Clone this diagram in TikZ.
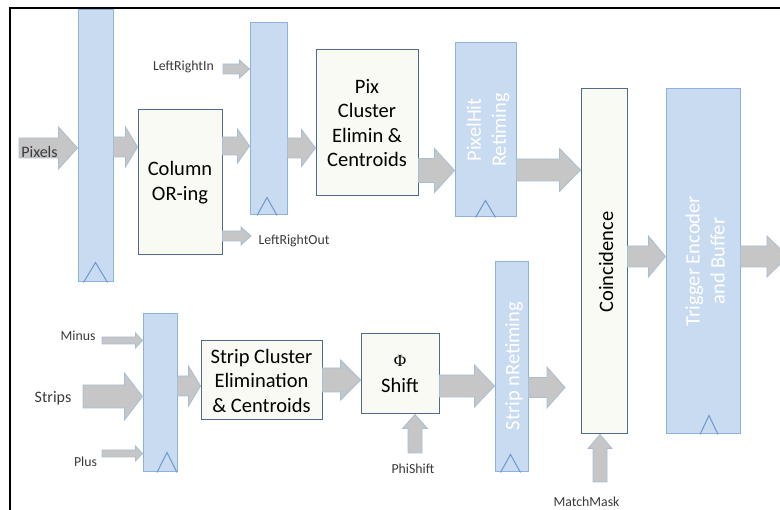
\documentclass[tikz,border=0pt]{standalone}
\usepackage{fontspec}
\setmainfont{Carlito}
\newfontfamily\greekserif{Liberation Serif}
\usetikzlibrary{calc}
\definecolor{regfill}{HTML}{C9DBF1}
\definecolor{regline}{HTML}{8FB2DC}
\definecolor{clkline}{HTML}{6F97CC}
\definecolor{boxfill}{HTML}{FAFAF4}
\definecolor{boxline}{HTML}{506A8C}
\definecolor{arrfill}{HTML}{C6C6C6}
\definecolor{arrline}{HTML}{A9BED4}
\definecolor{lbltext}{HTML}{3A3A3A}
\tikzset{
  regbox/.style={draw=regline, fill=regfill, line width=1pt, inner sep=0pt},
  procbox/.style={draw=boxline, fill=boxfill, line width=1pt, inner sep=0pt, align=center,
    font=\fontsize{20.5}{24.5}\selectfont},
  rtext/.style={rotate=90, text=white, align=center, inner sep=0pt,
    font=\fontsize{20.5}{25}\selectfont},
  lblbig/.style={text=lbltext, inner sep=0pt, font=\fontsize{16}{18}\selectfont},
  lblsmall/.style={text=lbltext, inner sep=0pt, font=\fontsize{13.8}{16}\selectfont},
  fatarrow/.style={fill=arrfill, draw=arrline, line width=0.8pt, line join=miter},
  clkmark/.style={draw=clkline, line width=1pt, line join=miter},
}
% horizontal fat arrow: from, to, y(px), shaft half, head half, head length
\newcommand\harr[6]{%
  \path[fatarrow] let \p1=(#1 |- 0,#3), \p2=(#2 |- 0,#3) in
   (\x1,\y1+#4pt) -- (\x2-#6pt,\y1+#4pt) -- (\x2-#6pt,\y1+#5pt) -- (\x2,\y1)
   -- (\x2-#6pt,\y1-#5pt) -- (\x2-#6pt,\y1-#4pt) -- (\x1,\y1-#4pt) -- cycle;}
% vertical (upward) fat arrow: from coordinate, to node anchor, shaft half, head half, head length
\newcommand\uarr[5]{%
  \path[fatarrow] let \p1=(#1), \p2=(#2 -| #1) in
   (\x1-#3pt,\y1) -- (\x1-#3pt,\y2-#5pt) -- (\x1-#4pt,\y2-#5pt) -- (\x1,\y2)
   -- (\x1+#4pt,\y2-#5pt) -- (\x1+#3pt,\y2-#5pt) -- (\x1+#3pt,\y1) -- cycle;}
\begin{document}
\begin{tikzpicture}[x=1pt,y=-1pt]
\useasboundingbox (0,0) rectangle (780,510);
% frame
\draw[line width=2.5pt, line join=miter] (10,530) -- (10,8) -- (800,8);

% registers and blocks
\node[regbox, minimum width=35pt, minimum height=272pt] (r1) at (95.5,146) {};
\node[regbox, minimum width=37pt, minimum height=192pt] (r2) at (268.5,119) {};
\node[procbox, minimum width=84pt, minimum height=145pt] (col) at (180,182.5) {Column\\OR-ing};
\node[procbox, minimum width=102pt, minimum height=146pt] (pix) at (367,123) {Pix\\Cluster\\Elimin \&\\Centroids};
\node[regbox, minimum width=61pt, minimum height=174pt] (pxr) at (485.5,130) {};
\node[procbox, minimum width=46pt, minimum height=345pt] (coin) at (604,261.5) {};
\node[regbox, minimum width=74pt, minimum height=345pt] (trig) at (703,261.5) {};
\node[regbox, minimum width=34pt, minimum height=158pt] (r3) at (160,393) {};
\node[procbox, minimum width=121pt, minimum height=79pt] (scl) at (261.5,380.5) {Strip Cluster\\Elimination\\\& Centroids};
\node[procbox, minimum width=78pt, minimum height=80pt] (phi) at (400,374)
  {{\greekserif\fontsize{17}{17}\selectfont Φ}\\[1pt]Shift};
\node[regbox, minimum width=33pt, minimum height=210pt] (srr) at (511.5,367) {};

% rotated texts
\node[rtext] (tpxr) at (488,130) {PixelHit\\Retiming};
\node[rtext, text=black] (tcoin) at (606,262) {Coincidence};
\node[rtext] (ttrig) at (705,261) {Trigger Encoder\\and Buffer};
\node[rtext] (tsrr) at (514,366) {Strip nRetiming};

% clock marks
\draw[clkmark] ([xshift=-12pt]r1.south) -- ([yshift=20pt]r1.south) -- ([xshift=12pt]r1.south);
\draw[clkmark] ([xshift=-11.5pt]r2.south) -- ([xshift=-1.5pt,yshift=18pt]r2.south) -- ([xshift=8.5pt]r2.south);
\draw[clkmark] ([xshift=-10pt]pxr.south) -- ([yshift=17pt]pxr.south) -- ([xshift=10pt]pxr.south);
\draw[clkmark] ([xshift=-3pt]trig.south) -- ([xshift=6pt,yshift=19pt]trig.south) -- ([xshift=15pt]trig.south);
\draw[clkmark] ([xshift=-3pt]r3.south) -- ([xshift=7pt,yshift=20pt]r3.south) -- ([xshift=17pt]r3.south);
\draw[clkmark] ([xshift=-11pt]srr.south) -- ([xshift=-1pt,yshift=18pt]srr.south) -- ([xshift=9pt]srr.south);

% free ends
\coordinate (pxin) at (19,148);
\coordinate (lrin) at (223,69);
\coordinate (lrout) at (251,236);
\coordinate (mnin) at (102,340.5);
\coordinate (stin) at (83,396.5);
\coordinate (plin) at (102,453.5);
\coordinate (psin) at (415,453);
\coordinate (mmin) at (600,482);
\coordinate (tout) at (788,256.5);

% arrows
\harr{pxin}{r1.west}{148}{10}{21}{19}
\harr{r1.east}{col.west}{147}{10}{20}{12}
\harr{col.east}{r2.west}{146}{9}{17}{12}
\harr{lrin}{r2.west}{69}{5}{9}{10}
\harr{col.east}{lrout}{236}{5}{9}{10}
\harr{r2.east}{pix.west}{148}{10}{18.5}{14}
\harr{pix.east}{pxr.west}{170.5}{12}{22}{20}
\harr{pxr.east}{coin.west}{170}{11}{21.5}{21}
\harr{coin.east}{trig.west}{256.5}{10.5}{20.5}{17}
\harr{trig.east}{tout}{256.5}{10.5}{20.5}{21}
\harr{mnin}{r3.west}{340.5}{3.5}{7.5}{7}
\harr{stin}{r3.west}{396.5}{11.5}{23.5}{18}
\harr{plin}{r3.west}{453.5}{3.5}{7.5}{7}
\harr{r3.east}{scl.west}{386}{10}{20}{12}
\harr{scl.east}{phi.west}{380}{12}{20}{20}
\harr{phi.east}{srr.west}{386}{11}{21}{20}
\coordinate (cin) at (565,387.5);
\harr{srr.east}{cin}{387.5}{10}{20.5}{18}
\uarr{psin}{phi.south}{7}{12.5}{14}
\uarr{mmin}{coin.south}{7}{12}{14}

% labels
\node[lblbig] (tpixels) at (39.5,152) {Pixels};
\node[lblsmall] (tlrin) at (183.5,67) {LeftRightIn};
\node[lblsmall] (tlrout) at (294,241) {LeftRightOut};
\node[lblsmall] (tminus) at (78,336) {Minus};
\node[lblbig] (tstrips) at (53,398) {Strips};
\node[lblsmall] (tplus) at (85.5,462) {Plus};
\node[lblsmall] (tphis) at (413,469) {PhiShift};
\node[lblsmall] (tmm) at (586.5,502) {MatchMask};
\end{tikzpicture}
\end{document}
